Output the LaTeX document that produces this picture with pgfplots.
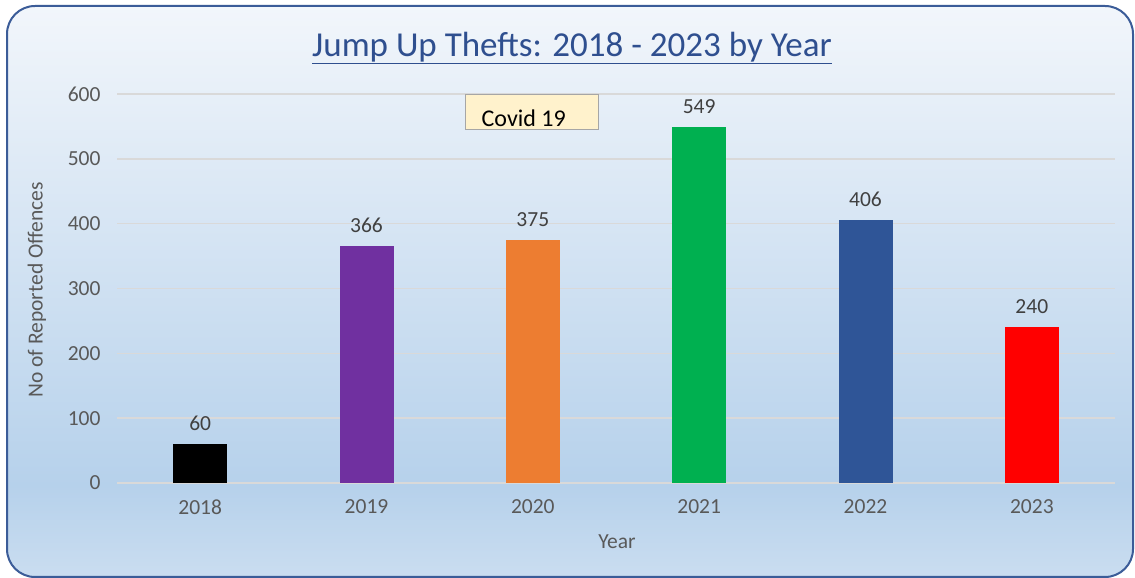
\documentclass[border=0pt]{standalone}
\usepackage{pgfplots}
\pgfplotsset{compat=1.18}
\usepackage{fontspec}
\setmainfont{Carlito}
\definecolor{bgtop}{HTML}{F2F6FB}
\definecolor{bgmid}{HTML}{B6D1EB}
\definecolor{bgbot}{HTML}{CADDF0}
\definecolor{frame}{HTML}{3B5C98}
\definecolor{titlec}{HTML}{2F4F8F}
\definecolor{tickc}{HTML}{595959}
\definecolor{valc}{HTML}{404040}
\pgfdeclareverticalshading{bgshade}{100bp}{color(0bp)=(bgbot); color(25bp)=(bgbot); color(33bp)=(bgmid); color(75bp)=(bgtop); color(100bp)=(bgtop)}
\begin{document}
\begin{tikzpicture}[x=1pt,y=1pt]
\path[use as bounding box] (0,0) rectangle (1135,578);
\shade[shading=bgshade, rounded corners=28pt] (7,1) rectangle (1133,572);
\draw[frame, line width=2pt, rounded corners=28pt] (7,1) rectangle (1133,572);
\node[titlec, font=\fontsize{35}{38}\selectfont] at (572,530) {\underline{Jump Up Thefts: 2018 - 2023 by Year}};
\node[tickc, font=\fontsize{21.5}{24}\selectfont, rotate=90] at (37,288) {No of Reported Offences};
\node[tickc, font=\fontsize{21.5}{24}\selectfont] at (617,36) {Year};
\begin{axis}[
  at={(117pt,95pt)}, anchor=south west,
  scale only axis, width=998pt, height=389pt,
  xmin=-0.5, xmax=5.5, ymin=0, ymax=600,
  xtick={0,...,5}, xticklabels={2018,2019,2020,2021,2022,2023},
  ytick={0,100,...,600},
  axis line style={draw=none}, major tick length=0pt,
  ymajorgrids, grid style={draw=gray!30, line width=1.5pt},
  tick label style={tickc, font=\fontsize{21.5}{24}\selectfont},
  xticklabel style={yshift=-13pt},
  yticklabel style={xshift=-13pt},
  /pgf/number format/assume math mode=true,
  clip=false,
  nodes near coords,
  every node near coord/.append style={valc, font=\fontsize{21.5}{24}\selectfont, yshift=10pt},
]
\addplot[ybar, bar width=54pt, fill=black, draw=none] coordinates {(0,60)};
\addplot[ybar, bar width=54pt, fill={rgb,255:red,112;green,48;blue,160}, draw=none] coordinates {(1,366)};
\addplot[ybar, bar width=54pt, fill={rgb,255:red,237;green,125;blue,49}, draw=none] coordinates {(2,375)};
\addplot[ybar, bar width=54pt, fill={rgb,255:red,0;green,176;blue,80}, draw=none] coordinates {(3,549)};
\addplot[ybar, bar width=54pt, fill={rgb,255:red,47;green,85;blue,151}, draw=none] coordinates {(4,406)};
\addplot[ybar, bar width=54pt, fill=red, draw=none] coordinates {(5,240)};
\draw[fill={rgb,255:red,255;green,242;blue,204}, draw=gray!70, line width=1.5pt] (axis cs:1.595,545) rectangle (axis cs:2.395,599);
\node[black, font=\fontsize{24}{28}\selectfont] at (axis cs:1.945,563) {Covid 19};
\end{axis}
\end{tikzpicture}
\end{document}
